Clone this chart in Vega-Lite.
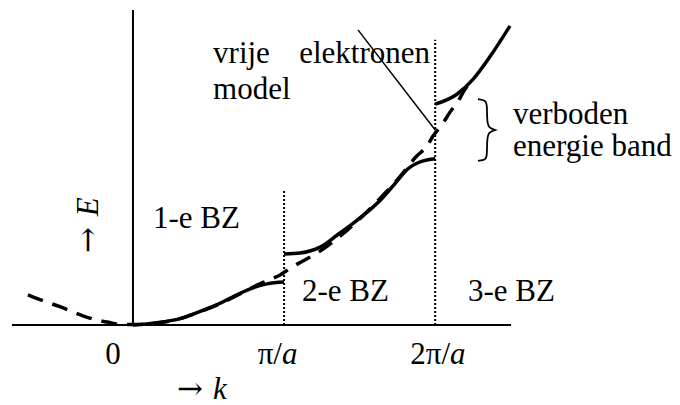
{
  "$schema": "https://vega.github.io/schema/vega-lite/v6.json",
  "width": 680,
  "height": 405,
  "padding": 0,
  "autosize": {"type": "fit", "contains": "padding"},
  "background": "white",
  "config": {"view": {"stroke": null}},
  "datasets": {
    "curves": [
      {"s": "free", "i": 0, "k": -0.695, "E": 0.627},
      {"s": "free", "i": 1, "k": -0.596, "E": 0.503},
      {"s": "free", "i": 2, "k": -0.483, "E": 0.379},
      {"s": "free", "i": 3, "k": -0.351, "E": 0.214},
      {"s": "free", "i": 4, "k": -0.251, "E": 0.111},
      {"s": "free", "i": 5, "k": -0.172, "E": 0.06},
      {"s": "free", "i": 6, "k": -0.073, "E": 0.008},
      {"s": "free", "i": 7, "k": 0.046, "E": 0.008},
      {"s": "free", "i": 8, "k": 0.179, "E": 0.049},
      {"s": "free", "i": 9, "k": 0.311, "E": 0.132},
      {"s": "free", "i": 10, "k": 0.443, "E": 0.276},
      {"s": "free", "i": 11, "k": 0.576, "E": 0.441},
      {"s": "free", "i": 12, "k": 0.708, "E": 0.647},
      {"s": "free", "i": 13, "k": 0.84, "E": 0.854},
      {"s": "free", "i": 14, "k": 0.887, "E": 0.916},
      {"s": "free", "i": 15, "k": 0.973, "E": 1.039},
      {"s": "free", "i": 16, "k": 1.052, "E": 1.204},
      {"s": "free", "i": 17, "k": 1.125, "E": 1.328},
      {"s": "free", "i": 18, "k": 1.238, "E": 1.534},
      {"s": "free", "i": 19, "k": 1.37, "E": 1.843},
      {"s": "free", "i": 20, "k": 1.503, "E": 2.214},
      {"s": "free", "i": 21, "k": 1.635, "E": 2.627},
      {"s": "free", "i": 22, "k": 1.767, "E": 3.08},
      {"s": "free", "i": 23, "k": 1.873, "E": 3.493},
      {"s": "free", "i": 24, "k": 1.946, "E": 3.72},
      {"s": "free", "i": 25, "k": 1.986, "E": 3.926},
      {"s": "free", "i": 26, "k": 2.052, "E": 4.194},
      {"s": "free", "i": 27, "k": 2.098, "E": 4.421},
      {"s": "free", "i": 28, "k": 2.151, "E": 4.647},
      {"s": "free", "i": 29, "k": 2.197, "E": 4.895},
      {"s": "free", "i": 30, "k": 2.244, "E": 5.08},

      {"s": "band1", "i": 0, "k": 0.0, "E": 0.0},
      {"s": "band1", "i": 1, "k": 0.159, "E": 0.049},
      {"s": "band1", "i": 2, "k": 0.311, "E": 0.132},
      {"s": "band1", "i": 3, "k": 0.424, "E": 0.256},
      {"s": "band1", "i": 4, "k": 0.556, "E": 0.421},
      {"s": "band1", "i": 5, "k": 0.688, "E": 0.627},
      {"s": "band1", "i": 6, "k": 0.794, "E": 0.771},
      {"s": "band1", "i": 7, "k": 0.887, "E": 0.854},
      {"s": "band1", "i": 8, "k": 1.0, "E": 0.89},

      {"s": "band2", "i": 0, "k": 1.0, "E": 1.472},
      {"s": "band2", "i": 1, "k": 1.105, "E": 1.493},
      {"s": "band2", "i": 2, "k": 1.238, "E": 1.616},
      {"s": "band2", "i": 3, "k": 1.35, "E": 1.864},
      {"s": "band2", "i": 4, "k": 1.482, "E": 2.173},
      {"s": "band2", "i": 5, "k": 1.635, "E": 2.586},
      {"s": "band2", "i": 6, "k": 1.734, "E": 2.936},
      {"s": "band2", "i": 7, "k": 1.82, "E": 3.245},
      {"s": "band2", "i": 8, "k": 1.886, "E": 3.369},
      {"s": "band2", "i": 9, "k": 1.952, "E": 3.431},
      {"s": "band2", "i": 10, "k": 2.0, "E": 3.452},

      {"s": "band3", "i": 0, "k": 2.0, "E": 4.586},
      {"s": "band3", "i": 1, "k": 2.144, "E": 4.792},
      {"s": "band3", "i": 2, "k": 2.25, "E": 5.101},
      {"s": "band3", "i": 3, "k": 2.363, "E": 5.575},
      {"s": "band3", "i": 4, "k": 2.495, "E": 6.214}
    ],
    "rules": [
      {"t": "axis", "k": -0.801, "E": 0, "k2": 2.502, "E2": 0},
      {"t": "axis", "k": 0, "E": 0, "k2": 0, "E2": 6.544},
      {"t": "zone", "k": 1, "E": 0, "k2": 1, "E2": 2.792},
      {"t": "zone", "k": 2, "E": 0, "k2": 2, "E2": 5.926},
      {"t": "pointer", "k": 1.489, "E": 6.13, "k2": 2.0, "E2": 4.05}
    ],
    "brace": [
      {"i": 0, "k": 2.283, "E": 4.689},
      {"i": 1, "k": 2.336, "E": 4.668},
      {"i": 2, "k": 2.343, "E": 4.565},
      {"i": 3, "k": 2.343, "E": 4.214},
      {"i": 4, "k": 2.356, "E": 4.091},
      {"i": 5, "k": 2.396, "E": 4.049},
      {"i": 6, "k": 2.396, "E": 4.049},
      {"i": 7, "k": 2.396, "E": 4.049},
      {"i": 8, "k": 2.356, "E": 4.008},
      {"i": 9, "k": 2.343, "E": 3.884},
      {"i": 10, "k": 2.343, "E": 3.534},
      {"i": 11, "k": 2.336, "E": 3.431},
      {"i": 12, "k": 2.283, "E": 3.41}
    ],
    "labels": [
      {"g": "left", "k": 0.53, "E": 5.45, "text": "vrije"},
      {"g": "left", "k": 0.53, "E": 4.689, "text": "model"},
      {"g": "left", "k": 2.515, "E": 4.173, "text": "verboden"},
      {"g": "left", "k": 2.515, "E": 3.513, "text": "energie band"},
      {"g": "left", "k": 0.132, "E": 2.008, "text": "1-e BZ"},
      {"g": "left", "k": 1.118, "E": 0.503, "text": "2-e BZ"},
      {"g": "left", "k": 2.217, "E": 0.503, "text": "3-e BZ"},
      {"g": "right", "k": 1.966, "E": 5.45, "text": "elektronen"},
      {"g": "right", "k": 0.986, "E": -0.814, "text": "π/"},
      {"g": "right", "k": 2.098, "E": -0.814, "text": "2π/"},
      {"g": "center", "k": -0.132, "E": -0.814, "text": "0"},
      {"g": "italic", "k": 0.986, "E": -0.814, "text": "a"},
      {"g": "italic", "k": 2.098, "E": -0.814, "text": "a"},
      {"g": "italic", "k": 0.529, "E": -1.538, "text": "k"},
      {"g": "arrow", "k": 0.291, "E": -1.538, "text": "→"},
      {"g": "rotarrow", "k": -0.232, "E": 1.493, "text": "→"},
      {"g": "rotitalic", "k": -0.232, "E": 2.256, "text": "E"}
    ]
  },
  "encoding": {
    "x": {"field": "k", "type": "quantitative", "axis": null,
          "scale": {"domain": [-0.88, 3.62], "nice": false, "zero": false}},
    "y": {"field": "E", "type": "quantitative", "axis": null,
          "scale": {"domain": [-1.6, 6.75], "nice": false, "zero": false}}
  },
  "layer": [
    {
      "data": {"name": "rules"},
      "transform": [{"filter": "datum.t === 'axis'"}],
      "mark": {"type": "rule", "color": "black", "strokeWidth": 2},
      "encoding": {"x2": {"field": "k2"}, "y2": {"field": "E2"}}
    },
    {
      "data": {"name": "rules"},
      "transform": [{"filter": "datum.t === 'zone'"}],
      "mark": {"type": "rule", "color": "black", "strokeWidth": 2, "strokeDash": [2, 2]},
      "encoding": {"x2": {"field": "k2"}, "y2": {"field": "E2"}}
    },
    {
      "data": {"name": "rules"},
      "transform": [{"filter": "datum.t === 'pointer'"}],
      "mark": {"type": "rule", "color": "black", "strokeWidth": 1.5},
      "encoding": {"x2": {"field": "k2"}, "y2": {"field": "E2"}}
    },
    {
      "data": {"name": "curves"},
      "transform": [{"filter": "datum.s === 'free'"}],
      "mark": {"type": "line", "color": "black", "strokeWidth": 3.5,
               "strokeDash": [16, 10], "interpolate": "monotone", "strokeCap": "butt"},
      "encoding": {"order": {"field": "i", "type": "quantitative"}}
    },
    {
      "data": {"name": "curves"},
      "transform": [{"filter": "datum.s !== 'free'"}],
      "mark": {"type": "line", "color": "black", "strokeWidth": 3.5,
               "interpolate": "monotone", "strokeCap": "butt"},
      "encoding": {
        "detail": {"field": "s", "type": "nominal"},
        "order": {"field": "i", "type": "quantitative"}
      }
    },
    {
      "data": {"name": "brace"},
      "mark": {"type": "line", "color": "black", "strokeWidth": 1.8, "interpolate": "basis"},
      "encoding": {"order": {"field": "i", "type": "quantitative"}}
    },
    {
      "data": {"name": "labels"},
      "transform": [{"filter": "datum.g === 'left'"}],
      "mark": {"type": "text", "font": "Liberation Serif", "fontSize": 31,
               "align": "left", "baseline": "alphabetic", "color": "black"},
      "encoding": {"text": {"field": "text"}}
    },
    {
      "data": {"name": "labels"},
      "transform": [{"filter": "datum.g === 'right'"}],
      "mark": {"type": "text", "font": "Liberation Serif", "fontSize": 31,
               "align": "right", "baseline": "alphabetic", "color": "black"},
      "encoding": {"text": {"field": "text"}}
    },
    {
      "data": {"name": "labels"},
      "transform": [{"filter": "datum.g === 'center'"}],
      "mark": {"type": "text", "font": "Liberation Serif", "fontSize": 31,
               "align": "center", "baseline": "alphabetic", "color": "black"},
      "encoding": {"text": {"field": "text"}}
    },
    {
      "data": {"name": "labels"},
      "transform": [{"filter": "datum.g === 'italic'"}],
      "mark": {"type": "text", "font": "Liberation Serif", "fontSize": 31, "fontStyle": "italic",
               "align": "left", "baseline": "alphabetic", "color": "black"},
      "encoding": {"text": {"field": "text"}}
    },
    {
      "data": {"name": "labels"},
      "transform": [{"filter": "datum.g === 'arrow'"}],
      "mark": {"type": "text", "font": "DejaVu Serif", "fontSize": 31,
               "align": "left", "baseline": "alphabetic", "color": "black"},
      "encoding": {"text": {"field": "text"}}
    },
    {
      "data": {"name": "labels"},
      "transform": [{"filter": "datum.g === 'rotarrow'"}],
      "mark": {"type": "text", "font": "DejaVu Serif", "fontSize": 31, "angle": 270,
               "align": "left", "baseline": "alphabetic", "color": "black"},
      "encoding": {"text": {"field": "text"}}
    },
    {
      "data": {"name": "labels"},
      "transform": [{"filter": "datum.g === 'rotitalic'"}],
      "mark": {"type": "text", "font": "Liberation Serif", "fontSize": 31, "angle": 270,
               "fontStyle": "italic", "align": "left", "baseline": "alphabetic", "color": "black"},
      "encoding": {"text": {"field": "text"}}
    }
  ]
}
